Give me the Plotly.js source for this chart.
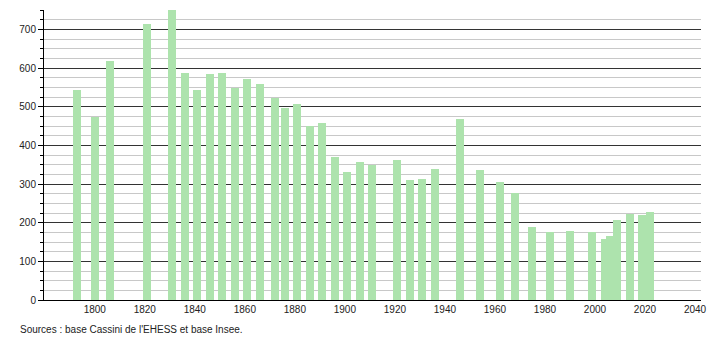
<!DOCTYPE html>
<html>
<head>
<meta charset="utf-8">
<script src="https://cdn.plot.ly/plotly-3.0.1.min.js"></script>
<style>
html,body{margin:0;padding:0;background:#fff;}
#chart{width:710px;height:340px;}
</style>
</head>
<body>
<div id="chart"></div>
<script>
const years = [1793, 1800, 1806, 1821, 1831, 1836, 1841, 1846, 1851, 1856, 1861, 1866, 1872, 1876, 1881, 1886, 1891, 1896, 1901, 1906, 1911, 1921, 1926, 1931, 1936, 1946, 1954, 1962, 1968, 1975, 1982, 1990, 1999, 2004, 2006, 2009, 2014, 2019, 2022];
const population = [543, 474, 618, 714, 752, 586, 543, 584, 586, 549, 571, 558, 522, 496, 506, 450, 457, 371, 330, 358, 349, 361, 311, 314, 340, 467, 335, 306, 278, 189, 177, 179, 177, 158, 166, 208, 223, 221, 228];
const xTicks = [1800, 1820, 1840, 1860, 1880, 1900, 1920, 1940, 1960, 1980, 2000, 2020, 2040];
const yTicks = [0, 100, 200, 300, 400, 500, 600, 700];
const sourceText = "Sources : base Cassini de l'EHESS et base Insee.";

const font = {family: 'Liberation Sans, Arial, sans-serif', size: 10, color: '#222'};

Plotly.newPlot('chart', [{
  type: 'bar',
  x: years,
  y: population,
  width: 3.2,
  marker: {color: '#ade3ad', line: {width: 0}},
  hoverinfo: 'x+y'
}], {
  width: 710, height: 340,
  margin: {l: 44, r: 9, t: 10, b: 40},
  paper_bgcolor: '#fff', plot_bgcolor: '#fff',
  font: font,
  showlegend: false,
  bargap: 0,
  xaxis: {
    range: [1779.7, 2042.4],
    tickvals: xTicks,
    ticktext: xTicks.map(String),
    showgrid: false,
    zeroline: false,
    showline: true, linecolor: '#000', linewidth: 1,
    ticks: '', tickfont: font
  },
  yaxis: {
    range: [0, 750],
    tickvals: yTicks,
    ticktext: yTicks.map(String),
    showgrid: true, gridcolor: '#333', gridwidth: 1,
    zeroline: false,
    showline: true, linecolor: '#000', linewidth: 1,
    ticks: 'outside', ticklen: 5, tickcolor: '#000',
    tickfont: font,
    minor: {dtick: 25, showgrid: true, gridcolor: '#c8c8c8', gridwidth: 1, ticks: 'outside', ticklen: 3, tickcolor: '#000'}
  },
  annotations: [{
    text: sourceText, xref: 'paper', yref: 'paper',
    x: -0.04, y: -0.075, xanchor: 'left', yanchor: 'top',
    showarrow: false, font: font
  }]
}, {displayModeBar: false, staticPlot: true});
</script>
</body>
</html>
